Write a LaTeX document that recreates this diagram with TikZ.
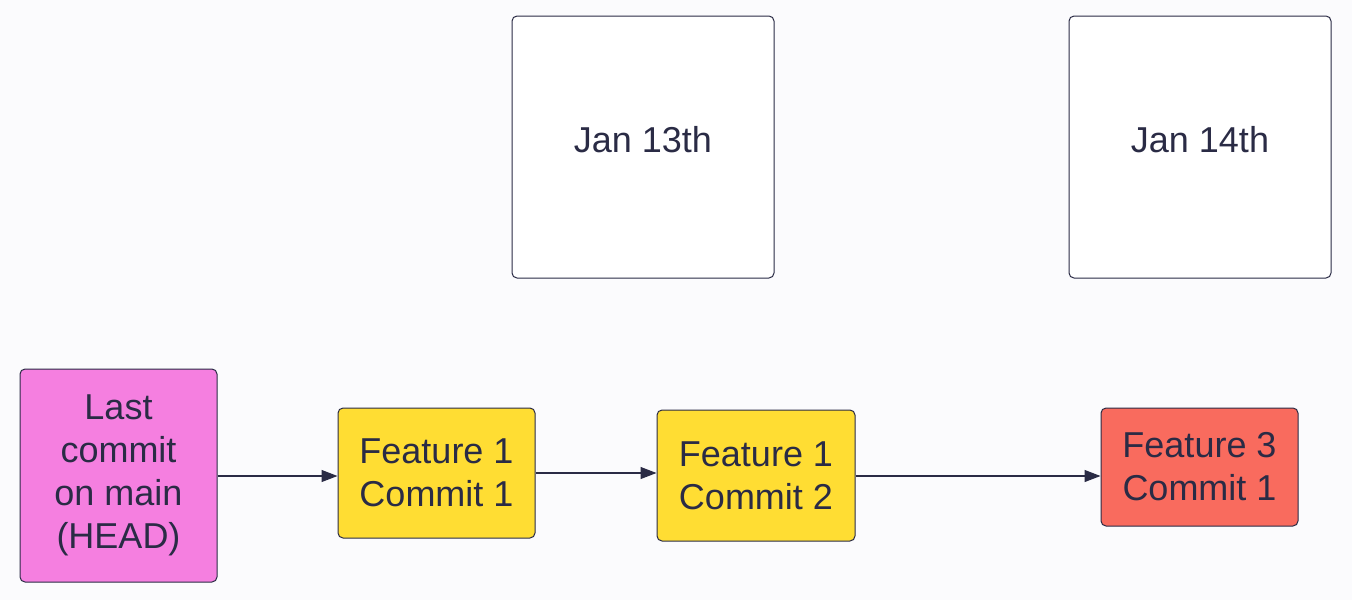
\documentclass[tikz,border=0pt]{standalone}
\usepackage{fontspec}
\setmainfont{Liberation Sans}
\usetikzlibrary{arrows.meta}
\definecolor{bg}{HTML}{FBFBFD}
\definecolor{ln}{HTML}{2A2B45}
\definecolor{pinkc}{HTML}{F57FE0}
\definecolor{yel}{HTML}{FFDD33}
\definecolor{redc}{HTML}{F96B5E}
\begin{document}
\begin{tikzpicture}[x=1pt,y=-1pt,
 box/.style={draw=ln,line width=1pt,rounded corners=5pt,align=center,font=\fontsize{36}{43}\selectfont,text=ln,inner sep=0pt},
 conn/.style={draw=ln,line width=1.2pt,-{Triangle[length=16pt,width=12pt]}}]
\fill[bg] (0,0) rectangle (1352,600);
\useasboundingbox (0,0) rectangle (1352,600);
\node[box,minimum width=262pt,minimum height=262pt,fill=white] (d13) at (643,147) {};
\node[text=ln,font=\fontsize{36}{43}\selectfont] at (643,140) {Jan 13th};
\node[box,minimum width=262pt,minimum height=262pt,fill=white] (d14) at (1200,147) {};
\node[text=ln,font=\fontsize{36}{43}\selectfont] at (1200,140) {Jan 14th};
\node[box,minimum width=197pt,minimum height=213pt,fill=pinkc] (head) at (118.5,475.5) {Last\\commit\\on main\\(HEAD)};
\node[box,minimum width=197pt,minimum height=130pt,fill=yel] (f1) at (436.5,473) {Feature 1\\Commit 1};
\node[box,minimum width=198pt,minimum height=131pt,fill=yel] (f2) at (756,475.5) {Feature 1\\Commit 2};
\node[box,minimum width=197pt,minimum height=118pt,fill=redc] (f3) at (1199.5,467) {Feature 3\\Commit 1};
\draw[conn] (head.east |- 0,476) -- (f1.west |- 0,476);
\draw[conn] (f1.east |- 0,473) -- (f2.west |- 0,473);
\draw[conn] (f2.east |- 0,476) -- (f3.west |- 0,476);
\end{tikzpicture}
\end{document}
